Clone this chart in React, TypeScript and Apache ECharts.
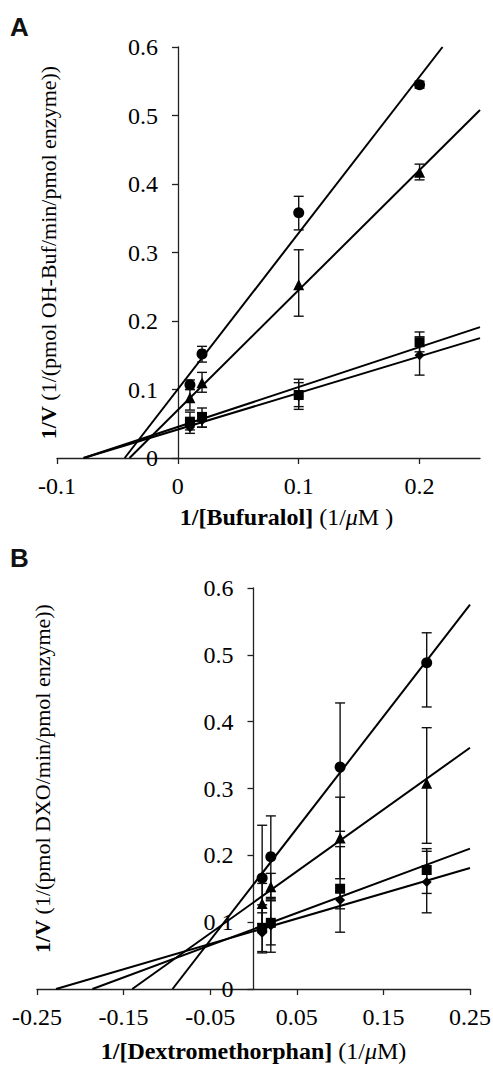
import React, { useEffect, useRef } from "react";
import * as echarts from "echarts";

// ---------- Data ----------
const xVals = [0.01, 0.02, 0.1, 0.2];

// Panel A (Bufuralol)
const circleA = [0.107, 0.152, 0.358, 0.545];
const triangleA = [0.088, 0.11, 0.253, 0.417];
const squareA = [0.053, 0.06, 0.092, 0.169];
const diamondA = [0.045, 0.055, 0.09, 0.15];
const circleALow = [0.1, 0.14, 0.333, 0.54];
const circleAHigh = [0.114, 0.163, 0.382, 0.55];
const triangleALow = [0.07, 0.096, 0.207, 0.406];
const triangleAHigh = [0.1, 0.125, 0.304, 0.429];
const squareALow = [0.041, 0.045, 0.075, 0.155];
const squareAHigh = [0.067, 0.073, 0.11, 0.184];
const diamondALow = [0.036, 0.045, 0.071, 0.121];
const diamondAHigh = [0.055, 0.066, 0.115, 0.177];
const fitCircleA = [[-0.044, 0], [0.219, 0.6]];
const fitTriangleA = [[-0.04, 0], [0.25, 0.508]];
const fitSquareA = [[-0.078, 0], [0.25, 0.191]];
const fitDiamondA = [[-0.078, 0], [0.25, 0.175]];
const xTicksA = [-0.1, 0, 0.1, 0.2];

// Panel B (Dextromethorphan)
const circleB = [0.166, 0.198, 0.332, 0.488];
const triangleB = [0.128, 0.153, 0.226, 0.308];
const squareB = [0.091, 0.099, 0.15, 0.178];
const diamondB = [0.084, 0.095, 0.133, 0.16];
const circleBLow = [0.087, 0.137, 0.236, 0.422];
const circleBHigh = [0.245, 0.259, 0.428, 0.533];
const triangleBLow = [0.098, 0.133, 0.165, 0.218];
const triangleBHigh = [0.158, 0.173, 0.287, 0.391];
const squareBLow = [0.056, 0.066, 0.085, 0.143];
const squareBHigh = [0.126, 0.132, 0.213, 0.21];
const diamondBLow = [0.054, 0.055, 0.12, 0.114];
const diamondBHigh = [0.114, 0.135, 0.146, 0.206];
const fitCircleB = [[-0.0935, 0], [0.25, 0.575]];
const fitTriangleB = [[-0.14, 0], [0.25, 0.361]];
const fitSquareB = [[-0.186, 0], [0.25, 0.21]];
const fitDiamondB = [[-0.228, 0], [0.25, 0.181]];
const xTicksB = [-0.25, -0.15, -0.05, 0.05, 0.15, 0.25];

// ---------- Styling ----------
const SERIF = "Liberation Serif";
const TXT = "#000";
const AX = "#222";
const TICK_FS = 24;
const XNAME_FS = 24;
const YNAME_FS = 22;

const pts = (ys: number[]) => xVals.map((x, i) => [x, ys[i]]);
const bars = (lo: number[], hi: number[]) => xVals.map((x, i) => [x, lo[i], hi[i]]);

const errorRender = (params: any, api: any) => {
  const x = api.value(0);
  const p1 = api.coord([x, api.value(1)]);
  const p2 = api.coord([x, api.value(2)]);
  const w = 5;
  const st = { stroke: "#111", lineWidth: 1.4 };
  return {
    type: "group",
    children: [
      { type: "line", shape: { x1: p1[0], y1: p1[1], x2: p2[0], y2: p2[1] }, style: st },
      { type: "line", shape: { x1: p1[0] - w, y1: p1[1], x2: p1[0] + w, y2: p1[1] }, style: st },
      { type: "line", shape: { x1: p2[0] - w, y1: p2[1], x2: p2[0] + w, y2: p2[1] }, style: st },
    ],
  };
};

const makeX = (grid: number, min: number, max: number, ticks: number[], digits: number, name: string, gap: number, pad: number[]) => ({
  type: "value",
  gridIndex: grid,
  min,
  max,
  axisLine: { onZero: false, lineStyle: { color: AX, width: 1.3 } },
  axisTick: { show: true, inside: false, length: 6, customValues: ticks, lineStyle: { color: AX, width: 1.3 } },
  axisLabel: {
    show: true,
    customValues: ticks,
    formatter: (v: number) => (Math.abs(v) < 1e-9 ? "0" : v.toFixed(digits)),
    fontFamily: SERIF,
    fontSize: TICK_FS,
    color: TXT,
    margin: 16,
  },
  splitLine: { show: false },
  name,
  nameLocation: "middle",
  nameGap: gap,
  nameTextStyle: {
    fontFamily: SERIF,
    fontSize: XNAME_FS,
    color: TXT,
    padding: pad,
    rich: {
      b: { fontFamily: SERIF, fontSize: XNAME_FS, fontWeight: "bold", color: TXT },
      i: { fontFamily: SERIF, fontSize: XNAME_FS, fontStyle: "italic", color: TXT },
    },
  },
});

const makeY = (grid: number, offset: number, name: string, gap: number, pad: number[]) => ({
  type: "value",
  gridIndex: grid,
  position: "left",
  offset,
  min: 0,
  max: 0.6,
  interval: 0.1,
  axisLine: { onZero: false, lineStyle: { color: AX, width: 1.3 } },
  axisTick: { show: true, inside: false, length: 6, lineStyle: { color: AX, width: 1.3 } },
  axisLabel: {
    formatter: (v: number) => (Math.abs(v) < 1e-9 ? "0" : v.toFixed(1)),
    fontFamily: SERIF,
    fontSize: TICK_FS,
    color: TXT,
    margin: 20,
  },
  splitLine: { show: false },
  name,
  nameLocation: "middle",
  nameGap: gap,
  nameTextStyle: {
    fontFamily: SERIF,
    fontSize: YNAME_FS,
    color: TXT,
    padding: pad,
    rich: {
      b: { fontFamily: SERIF, fontSize: YNAME_FS, fontWeight: "bold", color: TXT },
    },
  },
});

const scatter = (idx: number, data: number[][], symbol: string, size: number) => ({
  type: "scatter",
  xAxisIndex: idx,
  yAxisIndex: idx,
  data,
  symbol,
  symbolSize: size,
  itemStyle: { color: "#000", opacity: 1 },
  z: 4,
});

const fit = (idx: number, data: number[][]) => ({
  type: "line",
  xAxisIndex: idx,
  yAxisIndex: idx,
  data,
  showSymbol: false,
  symbol: "none",
  lineStyle: { color: "#000", width: 2 },
  z: 5,
});

const err = (idx: number, data: number[][]) => ({
  type: "custom",
  xAxisIndex: idx,
  yAxisIndex: idx,
  data,
  renderItem: errorRender,
  encode: { x: 0, y: [1, 2] },
  z: 3,
});

export default function App() {
  const ref = useRef<HTMLDivElement>(null);
  useEffect(() => {
    if (!ref.current) return;
    const chart = echarts.init(ref.current, null, { renderer: "svg" });
    chart.setOption({
      animation: false,
      backgroundColor: "#fff",
      textStyle: { fontFamily: SERIF },
      grid: [
        { left: 57, top: 47, width: 423, height: 411, containLabel: false, outerBoundsMode: "none" },
        { left: 37, top: 588, width: 433, height: 401, containLabel: false, outerBoundsMode: "none" },
      ],
      xAxis: [
        makeX(0, -0.1, 0.25, xTicksA, 1, "{b|1/[Bufuralol]} (1/{i|μ}M )", 47, [0, 0, 0, 36]),
        makeX(1, -0.25, 0.25, xTicksB, 2, "{b|1/[Dextromethorphan]} (1/{i|μ}M)", 50, [0, 0, 0, 0]),
      ],
      yAxis: [
        makeY(0, -121, "{b|1/V} (1/(pmol OH-Buf/min/pmol enzyme))", 119, [0, 0, 0, 0]),
        makeY(1, -216.5, "{b|1/V} (1/(pmol DXO/min/pmol enzyme))", 200, [0, 0, 0, 20]),
      ],
      graphic: [
        { type: "text", left: 10, top: 14, style: { text: "A", font: "bold 26px 'Liberation Sans', Arial, sans-serif", fill: "#111" } },
        { type: "text", left: 10, top: 545, style: { text: "B", font: "bold 26px 'Liberation Sans', Arial, sans-serif", fill: "#111" } },
      ],
      series: [
        err(0, bars(circleALow, circleAHigh)),
        err(0, bars(triangleALow, triangleAHigh)),
        err(0, bars(squareALow, squareAHigh)),
        err(0, bars(diamondALow, diamondAHigh)),
        scatter(0, pts(circleA), "circle", 11),
        scatter(0, pts(triangleA), "triangle", 11),
        scatter(0, pts(squareA), "rect", 10),
        scatter(0, pts(diamondA), "diamond", 10),
        fit(0, fitCircleA),
        fit(0, fitTriangleA),
        fit(0, fitSquareA),
        fit(0, fitDiamondA),
        err(1, bars(circleBLow, circleBHigh)),
        err(1, bars(triangleBLow, triangleBHigh)),
        err(1, bars(squareBLow, squareBHigh)),
        err(1, bars(diamondBLow, diamondBHigh)),
        scatter(1, pts(circleB), "circle", 11),
        scatter(1, pts(triangleB), "triangle", 11),
        scatter(1, pts(squareB), "rect", 10),
        scatter(1, pts(diamondB), "diamond", 10),
        fit(1, fitCircleB),
        fit(1, fitTriangleB),
        fit(1, fitSquareB),
        fit(1, fitDiamondB),
      ],
    });
    return () => chart.dispose();
  }, []);
  return (
    <div
      ref={ref}
      style={{ position: "absolute", left: 0, top: 0, width: 493, height: 1066, background: "#fff" }}
    />
  );
}
